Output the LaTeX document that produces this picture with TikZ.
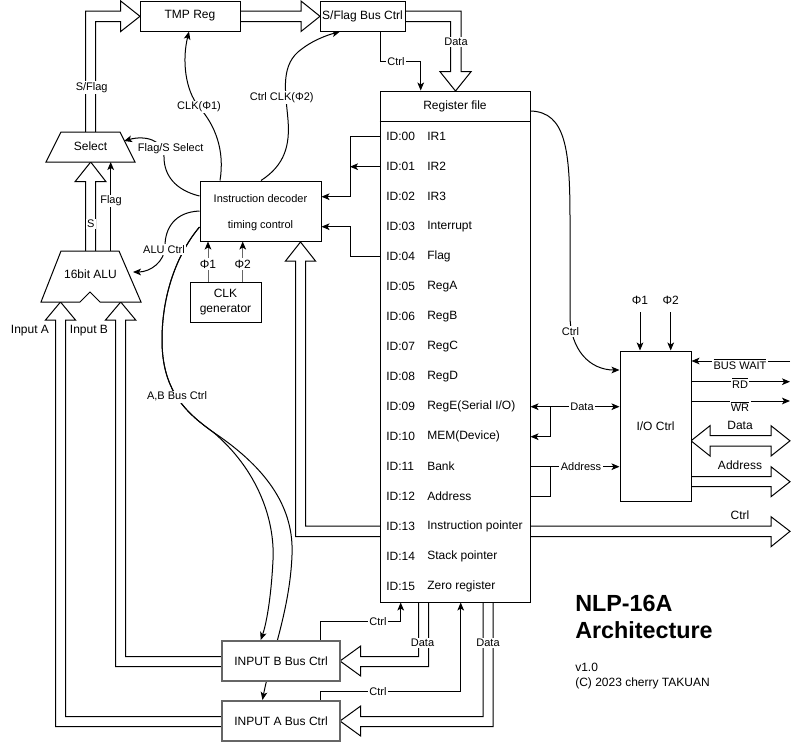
\documentclass[tikz,border=0pt]{standalone}
\usepackage{fontspec}
\setmainfont{Liberation Sans}
\usetikzlibrary{arrows.meta}
\pgfdeclarelayer{bg}
\pgfsetlayers{bg,main}
\definecolor{bord}{HTML}{666666}
\newcommand\fsA{\fontsize{9pt}{11.25pt}\selectfont}
\newcommand\fsB{\fontsize{8.25pt}{10pt}\selectfont}
\newcommand\fsT{\fontsize{17.5pt}{21pt}\selectfont\bfseries}
\begin{document}
\begin{tikzpicture}[x=0.75pt,y=-0.75pt,
  every node/.style={inner sep=0pt},
  ln/.style={line width=0.75pt},
  arr/.style={line width=0.75pt,-{Stealth[length=6pt,width=5pt,inset=1.5pt]}},
  arrg/.style={line width=0.75pt,draw=bord,-{Stealth[length=6pt,width=5pt,inset=1.5pt,color=black]}},
  darr/.style={line width=0.75pt,{Stealth[length=6pt,width=5pt,inset=1.5pt]}-{Stealth[length=6pt,width=5pt,inset=1.5pt]}},
  box/.style={draw,line width=0.75pt,fill=white,font=\fsA,align=center},
  gbox/.style={draw=bord,line width=1.5pt,fill=white,font=\fsA},
  flex/.style={draw,line width=0.75pt,fill=white,line join=miter},
  lab/.style={fill=white,inner sep=1pt,font=\fsB},
  labA/.style={fill=white,inner sep=1pt,font=\fsA},
  txt/.style={font=\fsA},
]
\useasboundingbox (0,0) rectangle (799,743);

% ---------- boxes ----------
\node[box, minimum width=75pt, minimum height=22.5pt] (tmp) at (190,16) {TMP Reg};
\node[box, minimum width=63.75pt, minimum height=22.5pt] (sfb) at (362.5,16) {S/Flag Bus Ctrl};
\node[box, minimum width=112.5pt, minimum height=383.25pt] (rf) at (455,346.5) {};
\draw[ln] (rf.west |- 0,121) -- (rf.east |- 0,121);
\node[txt] (rfh) at (455,106) {Register file};
\foreach \n [count=\c from 0] in {IR1,IR2,IR3,Interrupt,Flag,RegA,RegB,RegC,RegD,{RegE(Serial I/O)},{MEM(Device)},Bank,Address,{Instruction pointer},{Stack pointer},{Zero register}}{
  \node[txt,anchor=west] (id\c) at (386,136.7+30*\c) {ID:\ifnum\c<10 0\fi\c};
  \node[txt,anchor=west] (nm\c) at (427,136.7+30*\c) {\n};
}
\node[box, minimum width=90.75pt, minimum height=45pt] (dec) at (260.5,211) {};
\node[font=\fsB] (dec1) at (260.5,198.3) {Instruction decoder};
\node[font=\fsB] (dec2) at (260.5,226) {timing control};
\node[box, minimum width=53.25pt, minimum height=30pt] (clk) at (225.5,302) {CLK\\generator};
\node[box, minimum width=53.25pt, minimum height=112.5pt] (io) at (655.5,426) {I/O Ctrl};
\node[gbox, minimum width=88.5pt, minimum height=30pt] (inb) at (281,661) {INPUT B Bus Ctrl};
\node[gbox, minimum width=88.5pt, minimum height=30pt] (ina) at (281,721) {INPUT A Bus Ctrl};

\path[flex] (61,132) -- (120,132) -- (135,162) -- (46,162) -- cycle;
\node[txt] (sel) at (90.5,146.5) {Select};
\path[flex] (61,251) -- (119,251) -- (141,302) -- (100,302) -- (90,292) -- (80,302) -- (41,302) -- cycle;
\node[txt] (alu) at (90.5,274) {16bit ALU};

% ---------- connectors (background) ----------
\begin{pgfonlayer}{bg}
\path[flex] (85.7,132) -- (85.7,11) -- (120.7,11) -- (120.7,1) -- (140,16.3) -- (120.7,31.5) -- (120.7,21.7) -- (95.7,21.7) -- (95.7,132);
\path[flex] (240,11) -- (301,11) -- (301,1) -- (320,16.3) -- (301,31.5) -- (301,21.7) -- (240,21.7);
\path[flex] (405,11) -- (461,11) -- (461,71.7) -- (471,71.7) -- (455.5,91) -- (440,71.7) -- (450.7,71.7) -- (450.7,21.7) -- (405,21.7);
\path[flex] (85.7,251) -- (85.7,181.7) -- (75,181.7) -- (90.7,162) -- (106,181.7) -- (95.7,181.7) -- (95.7,251);
\path[flex] (222,726.7) -- (55.5,726.7) -- (55.5,320) -- (45.5,320) -- (60.5,302) -- (75.5,320) -- (65.5,320) -- (65.5,716.7) -- (222,716.7);
\path[flex] (222,666.7) -- (115.5,666.7) -- (115.5,320) -- (105.5,320) -- (120.7,302) -- (135.7,320) -- (125.7,320) -- (125.7,656.7) -- (222,656.7);
\path[flex] (380,526) -- (305.5,526) -- (305.5,261) -- (315.5,261) -- (300.5,242) -- (285.5,261) -- (295.5,261) -- (295.5,536.5) -- (380,536.5);
\path[flex] (530,526) -- (771,526) -- (771,516.7) -- (790,531.3) -- (771,546.7) -- (771,536.5) -- (530,536.5);
\path[flex] (710,435.7) -- (771,435.7) -- (771,425.7) -- (790,440.8) -- (771,456) -- (771,446) -- (710,446) -- (710,456) -- (691,440.8) -- (710,425.7) -- cycle;
\path[flex] (691,476.7) -- (771,476.7) -- (771,466.7) -- (790,481.7) -- (771,496.7) -- (771,486.7) -- (691,486.7);
\path[flex] (418.6,602) -- (418.6,656.7) -- (360.7,656.7) -- (360.7,646) -- (340,661) -- (360.7,676) -- (360.7,666.7) -- (428.6,666.7) -- (428.6,602);
\path[flex] (483,602) -- (483,716.7) -- (360.7,716.7) -- (360.7,706) -- (340,721) -- (360.7,736) -- (360.7,726.7) -- (493,726.7) -- (493,602);

% thin lines
\draw[arr] (sfb.south -| 380,0) |- (420.7,61.7) -- (rf.north -| 420.7,0);
\draw[arr] (dec.north -| 220,0) .. controls (225,150) and (215,125) .. (199,107) .. controls (185,90) and (182,60) .. (tmp.south -| 189,0);
\draw[arr] (dec.north -| 261,0) .. controls (285,165) and (290,145) .. (288,120) .. controls (286,95) and (280,68) .. (298,52) .. controls (312,40) and (328,35) .. (sfb.south -| 340,0);
\draw[arr] (dec.west |- 0,196) .. controls (175,190) and (164,175) .. (164,157) .. controls (164,140) and (145,135) .. (124,141);
\draw[arr] (dec.west |- 0,211) .. controls (175,212) and (165,228) .. (165,246) .. controls (165,262) and (150,272) .. (133,272);
\draw[arr] (dec.west |- 0,227) .. controls (180,250) and (162,290) .. (162,340) .. controls (162,390) and (185,412) .. (213,432) .. controls (258,470) and (275,520) .. (273,560) .. controls (271,600) and (266,625) .. (inb.north -| 260.7,0);
\draw[arr] (dec.west |- 0,227) .. controls (180,250) and (162,290) .. (162,340) .. controls (162,390) and (185,412) .. (213,432) .. controls (270,470) and (294,510) .. (292,555) .. controls (290,610) and (270,660) .. (ina.north -| 262.5,0);
\draw[arr] (rf.west |- id0) -- (350,136.7) |- (dec.east |- 0,196.7);
\draw[arr] (rf.west |- id1) -- (350,166.7);
\draw[arr] (rf.west |- id4) -- (350,256.7) |- (dec.east |- 0,226.7);
\draw[arrg] (clk.north -| 208,0) -- (dec.south -| 208,0);
\draw[arrg] (clk.north -| 242.7,0) -- (dec.south -| 242.7,0);
\draw[arr] (alu.north -| 110.7,251) -- (110.7,162);
\draw[arr] (rf.east |- 0,111) .. controls (566,112) and (570,150) .. (570,220) -- (570,315) .. controls (570,350) and (590,370) .. (io.west |- 0,370);
\coordinate (p1top) at (640,312);
\coordinate (p2top) at (670.7,312);
\draw[arr] (p1top) -- (io.north -| p1top);
\draw[arr] (p2top) -- (io.north -| p2top);
\coordinate (bwend) at (790,361);
\coordinate (rdend) at (790,381.7);
\coordinate (wrend) at (790,401);
\draw[arr] (bwend) -- (io.east |- bwend);
\draw[arr] (io.east |- rdend) -- (rdend);
\draw[arr] (io.east |- wrend) -- (wrend);
\draw[darr] (rf.east |- id9) -- (io.west |- id9);
\draw[arr] (550.7,406.7) |- (rf.east |- id10);
\draw[arr] (rf.east |- id11) -- (io.west |- id11);
\draw[ln] (rf.east |- id12) -| (550.7,466.7);
\draw[arr] (inb.north -| 320.4,0) |- (400.7,621.7) -- (rf.south -| 400.7,0);
\draw[arr] (ina.north -| 320.4,0) |- (460.7,691.7) -- (rf.south -| 460.7,0);
\end{pgfonlayer}

% ---------- labels ----------
\node[lab] (lsf) at (91.7,87.7) {S/Flag};
\node[lab] (ldata1) at (456,42) {Data};
\node[lab] (lctrl1) at (396,61.7) {Ctrl};
\node[lab] (lclk1) at (199,107) {CLK(Φ1)};
\node[lab] (lclk2) at (281.7,97.7) {Ctrl CLK(Φ2)};
\node[lab] (lfs) at (170.7,148.3) {Flag/S Select};
\node[lab] (lalu) at (164,249.3) {ALU Ctrl};
\node[lab] (lab2) at (177,396.7) {A,B Bus Ctrl};
\node[lab] (ls) at (90.7,224) {S};
\node[lab] (lflag) at (111,201) {Flag};
\node[labA] (lp1) at (208,264) {Φ1};
\node[labA] (lp2) at (242.7,264) {Φ2};
\node[txt] (lina) at (30,330.7) {Input A};
\node[txt] (linb) at (89,330.7) {Input B};
\node[lab] (lctrl2) at (570.5,331.7) {Ctrl};
\node[labA] (lio1) at (640,300.7) {Φ1};
\node[labA] (lio2) at (670.7,300.7) {Φ2};
\node[lab] (lbw) at (740,364) {$\overline{\mbox{\fsB BUS WAIT}}$};
\node[lab] (lrd) at (740,383) {$\overline{\mbox{\fsB RD}}$};
\node[lab] (lwr) at (740,406.5) {$\overline{\mbox{\fsB WR}}$};
\node[labA] (liodata) at (740,425.8) {Data};
\node[labA] (lioaddr) at (740,465.7) {Address};
\node[labA] (lioctrl) at (740,515.7) {Ctrl};
\node[lab] (ldata2) at (582,406.7) {Data};
\node[lab] (laddr2) at (581,466.7) {Address};
\node[lab] (lctrl3) at (378,621.7) {Ctrl};
\node[lab] (lctrl4) at (378,691.7) {Ctrl};
\node[lab] (ldata3) at (422.5,643) {Data};
\node[lab] (ldata4) at (488,643) {Data};

% ---------- title ----------
\node[font=\fsT, anchor=base west] (t1) at (575,611.7) {NLP-16A};
\node[font=\fsT, anchor=base west] (t2) at (575,638.3) {Architecture};
\node[txt, anchor=base west] (t3) at (575,671.7) {v1.0};
\node[txt, anchor=base west] (t4) at (575,686) {(C) 2023 cherry TAKUAN};
\end{tikzpicture}
\end{document}
